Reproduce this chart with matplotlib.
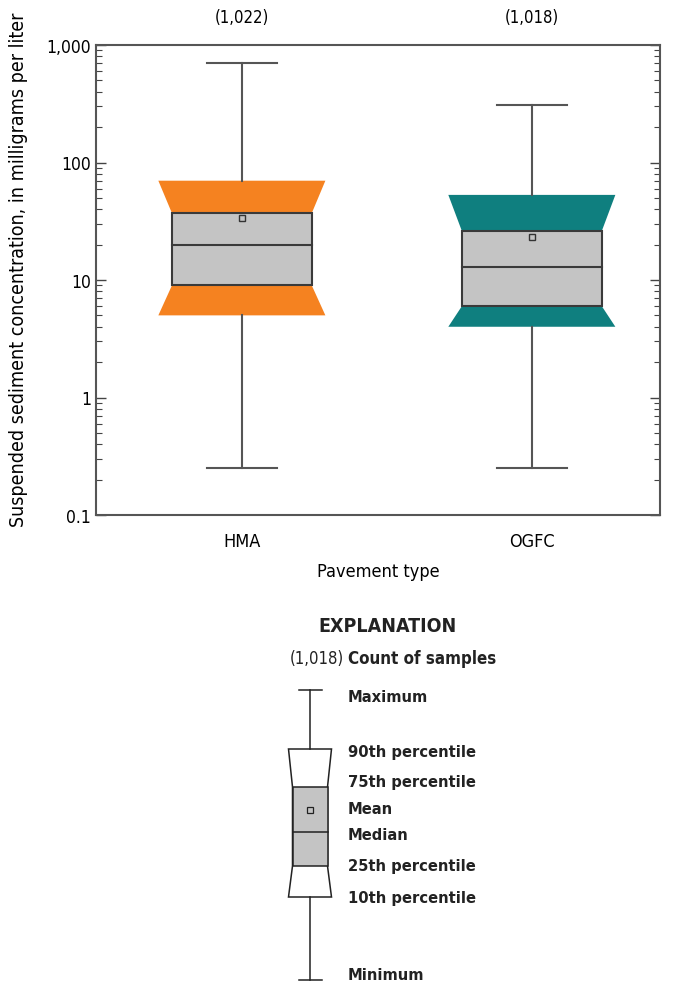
import matplotlib
matplotlib.use("Agg")
import matplotlib.pyplot as plt
from matplotlib.patches import Polygon, Rectangle
from matplotlib.ticker import FixedLocator, FixedFormatter, LogLocator, NullFormatter

plt.rcParams['font.family'] = ['DejaVu Sans']
plt.rcParams['font.stretch'] = 'condensed'

# ---- data ----
categories = ["HMA", "OGFC"]
counts = ["(1,022)", "(1,018)"]
p_min = [0.25, 0.25]
p10 = [5.0, 4.0]
p25 = [9.0, 6.0]
median = [20.0, 13.0]
mean = [34.0, 23.0]
p75 = [37.0, 26.0]
p90 = [70.0, 53.0]
p_max = [700.0, 310.0]
colors = ["#F58220", "#0F7F7F"]

y_ticks = [0.1, 1, 10, 100, 1000]
y_tick_labels = ["0.1", "1", "10", "100", "1,000"]

legend_labels = ["Maximum", "90th percentile", "75th percentile", "Mean",
                 "Median", "25th percentile", "10th percentile", "Minimum"]

W, H = 679, 987
fig = plt.figure(figsize=(W / 100, H / 100), dpi=100)
ax = fig.add_axes([96 / W, 1 - 516 / H, 564 / W, 470 / H])

edge = "#3a3a3a"
gray = "#C4C4C4"
Wout, Win, Wcap = 0.288, 0.241, 0.12

for i, cat in enumerate(categories):
    c = i + 1
    poly = Polygon([(c - Wout, p90[i]), (c + Wout, p90[i]), (c + Win, p75[i]),
                    (c + Win, p25[i]), (c + Wout, p10[i]), (c - Wout, p10[i]),
                    (c - Win, p25[i]), (c - Win, p75[i])],
                   closed=True, facecolor=colors[i], edgecolor="none", zorder=2)
    ax.add_patch(poly)
    rect = Rectangle((c - Win, p25[i]), 2 * Win, p75[i] - p25[i],
                     facecolor=gray, edgecolor=edge, lw=1.5, zorder=3)
    ax.add_patch(rect)
    ax.plot([c - Win, c + Win], [median[i], median[i]], color=edge, lw=1.5, zorder=4)
    ax.plot([c, c], [p90[i], p_max[i]], color="#555555", lw=1.5, zorder=2)
    ax.plot([c, c], [p10[i], p_min[i]], color="#555555", lw=1.5, zorder=2)
    ax.plot([c - Wcap, c + Wcap], [p_max[i], p_max[i]], color="#555555", lw=1.5)
    ax.plot([c - Wcap, c + Wcap], [p_min[i], p_min[i]], color="#555555", lw=1.5)
    ax.plot([c], [mean[i]], marker="s", ms=4.5, mfc=gray, mec="#333333", mew=1.0, zorder=5)
    ax.text(c, 1.06, counts[i], transform=ax.get_xaxis_transform(),
            ha="center", va="center", fontsize=12)

ax.set_yscale("log")
ax.set_ylim(0.1, 1000)
ax.set_xlim(0.497, 2.442)
ax.yaxis.set_major_locator(FixedLocator(y_ticks))
ax.yaxis.set_major_formatter(FixedFormatter(y_tick_labels))
ax.yaxis.set_minor_locator(LogLocator(base=10, subs=range(2, 10)))
ax.yaxis.set_minor_formatter(NullFormatter())
ax.tick_params(axis="y", which="major", direction="in", length=7, width=1.0,
               right=True, labelsize=12.5, color="#444444")
ax.tick_params(axis="y", which="minor", direction="in", length=4, width=0.8,
               right=True, color="#444444")
ax.set_xticks([1, 2])
ax.set_xticklabels(categories)
ax.tick_params(axis="x", length=0, labelsize=13, pad=12)
for s in ax.spines.values():
    s.set_color("#555555")
    s.set_linewidth(1.5)
ax.set_xlabel("Pavement type", fontsize=13, labelpad=9)
ax.set_ylabel("Suspended sediment concentration, in milligrams per liter",
              fontsize=14)
ax.yaxis.set_label_coords(-0.121, 0.523)

# ---- explanation (schematic legend) ----
lax = fig.add_axes([0, 0, 1, 1])
lax.set_xlim(0, W)
lax.set_ylim(H, 0)
lax.axis("off")
lx = 310
y_max, y90, y75, ymean, ymed, y25, y10, ymin = 691, 750, 788, 811, 833, 867, 898, 981
lw_ = 1.1
lax.add_patch(Polygon([(lx - 21.5, y90), (lx + 21.5, y90), (lx + 17.5, y75),
                       (lx + 17.5, y25), (lx + 21.5, y10), (lx - 21.5, y10),
                       (lx - 17.5, y25), (lx - 17.5, y75)], closed=True,
                      facecolor="white", edgecolor="#222222", lw=lw_))
lax.add_patch(Rectangle((lx - 17.5, y75), 35, y25 - y75, facecolor=gray,
                        edgecolor="#222222", lw=lw_))
lax.plot([lx - 17.5, lx + 17.5], [ymed, ymed], color="#222222", lw=lw_)
lax.plot([lx, lx], [y_max, y90], color="#222222", lw=lw_)
lax.plot([lx, lx], [y10, ymin], color="#222222", lw=lw_)
lax.plot([lx - 11.5, lx + 11.5], [y_max, y_max], color="#222222", lw=lw_)
lax.plot([lx - 11.5, lx + 11.5], [ymin, ymin], color="#222222", lw=lw_)
lax.plot([lx], [ymean], marker="s", ms=4.5, mfc=gray, mec="#222222", mew=0.9)

lax.text(388, 626, "EXPLANATION", ha="center", va="center", fontsize=14,
         fontweight="bold", color="#222222")
lax.text(344, 659, "(1,018)", ha="right", va="center", fontsize=12, color="#222222")
lax.text(348, 659, "Count of samples", ha="left", va="center", fontsize=12.2,
         fontweight="bold", color="#222222")
label_y = [697, 752, 783, 810, 836, 866, 898, 975]
for lab, yy in zip(legend_labels, label_y):
    lax.text(348, yy, lab, ha="left", va="center", fontsize=11.8,
             fontweight="bold", color="#222222")

fig.savefig("out.png", dpi=100)
